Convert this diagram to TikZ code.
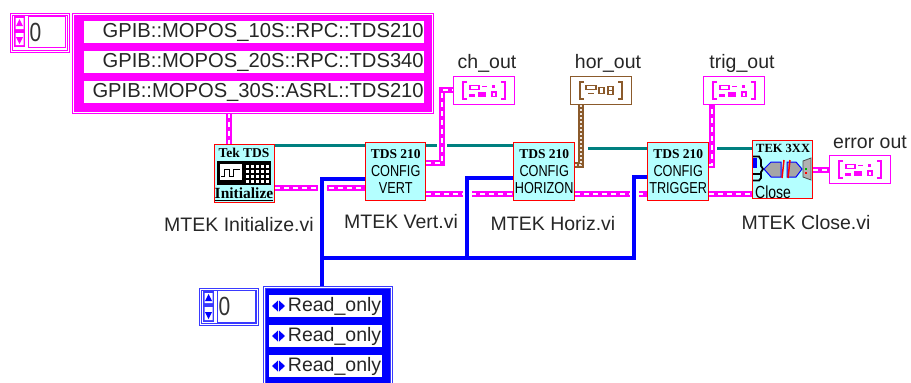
\documentclass[tikz,border=0pt]{standalone}
\usepackage{fontspec}
\usepackage{graphicx}
\setmainfont{Liberation Sans}
\newfontfamily\iconserif{Liberation Serif}
\definecolor{mag}{HTML}{FF00FF}
\definecolor{bluew}{HTML}{0000FF}
\definecolor{tealw}{HTML}{008080}
\definecolor{brownw}{HTML}{8B5A2B}
\definecolor{vicyan}{HTML}{B4FFFF}
\definecolor{frblue}{HTML}{3A3AFF}
\pgfdeclarelayer{bg}
\pgfsetlayers{bg,main}
\newcommand\lbl{\fontsize{19.5}{22}\selectfont}
\newcommand\gpib{\fontsize{20.2}{22}\selectfont}
\newcommand\ser{\iconserif\bfseries\fontsize{13.5}{18}\selectfont}
\newcommand\tall[1]{\scalebox{1}[1.25]{#1}}
\newcommand\clusicon[2]{%
 \begin{scope}[shift={(#1.center)},draw=#2,fill=#2,line width=1.4pt]
  \draw (-17,-8.5) -- (-21,-8.5) -- (-21,8.5) -- (-17,8.5);
  \draw (17,-8.5) -- (21,-8.5) -- (21,8.5) -- (17,8.5);
  \draw[fill=none] (-14,-5) rectangle (-5,-1);
  \fill (-15,3) rectangle (-9,6);
  \fill (-6,1) rectangle (2,6);
  \draw (-2,-4) -- (3,-4);
  \fill (8,-6) rectangle (11,-3);
  \draw[fill=none] (8,1.5) rectangle (12,6);
 \end{scope}}
\tikzset{
 x=1pt,y=-1pt,
 vi/.style={draw=red,line width=1.4pt,fill=vicyan,anchor=north west,minimum width=60pt,minimum height=58pt,inner sep=0pt,align=center,font=\fontsize{12.7}{17.5}\selectfont},
 txt/.style={font=\lbl,inner sep=0pt,text=black!85},
 magframe/.style={draw=mag,fill=mag,line width=1pt,double=white,double distance=1pt,anchor=north west,inner sep=0pt},
 blueframe/.style={draw=frblue,fill=bluew,line width=1pt,double=white,double distance=1pt,anchor=north west,inner sep=0pt},
 strip/.style={fill=white,anchor=north west,minimum height=22pt,inner sep=0pt,font=\lbl,text=black!85},
 field/.style={fill=white,draw=#1,line width=1pt,anchor=north west,inner sep=0pt,font=\fontsize{21}{24}\selectfont,text=black!80},
 term/.style={draw=#1,fill=white,line width=1.3pt,anchor=north west,minimum width=61pt,minimum height=28pt,inner sep=0pt},
 tealwire/.style={draw=tealw,line width=3pt},
 pinkwire/.style={draw=mag,line width=5.5pt,postaction={draw=white,line width=1.6pt,dash pattern=on 5pt off 4pt}},
 pinkover/.style={pinkwire,preaction={draw=white,line width=10pt}},
 brownwire/.style={draw=brownw,line width=6.5pt,preaction={draw=white,line width=13pt},postaction={draw=white!85!brownw,line width=2pt,dash pattern=on 2pt off 2pt}},
 bluewire/.style={draw=bluew,line width=3.5pt,preaction={draw=white,line width=9pt}},
}
\begin{document}
\begin{tikzpicture}
\useasboundingbox (0,0) rectangle (911,383);
% --- magenta array
\node[magframe,minimum width=359pt,minimum height=98pt] (idxa) at (72.5,13.5) {};
\node[strip,font=\gpib,minimum width=340pt,align=right,text width=339pt] (s1) at (84,21) {GPIB::MOPOS\_10S::RPC::TDS210};
\node[strip,font=\gpib,minimum width=340pt,align=right,text width=339pt] (s2) at (84,51) {GPIB::MOPOS\_20S::RPC::TDS340};
\node[strip,font=\gpib,minimum width=340pt,align=right,text width=339pt] (s3) at (84,81) {GPIB::MOPOS\_30S::ASRL::TDS210};
% --- magenta index
\node[draw=mag,fill=white,line width=1pt,double=white,double distance=1pt,anchor=north west,minimum width=57pt,minimum height=37pt,inner sep=0pt] (ia) at (10.5,13.5) {};
\node[field=mag,minimum width=37pt,minimum height=31pt,text width=35pt,align=left] (fa) at (28,16) {\tall{0}};
\fill[mag] (14,16) rectangle (25,47);
\fill[white] (15.5,18) rectangle (23.5,29) (15.5,33) rectangle (23.5,45);
\fill[mag] (19.5,19) -- (23,26) -- (16,26) -- cycle (19.5,44) -- (23,37) -- (16,37) -- cycle;
% --- VIs
\node[vi] (init) at (214,144) {};
\node[vi] (vert) at (365,142) {{\ser TDS 210}\\\tall{CONFIG}\\\tall{VERT}};
\node[vi,minimum width=61pt] (horiz) at (513,142) {{\ser TDS 210}\\\tall{CONFIG}\\\tall{HORIZON}};
\node[vi,minimum width=61pt] (trig) at (647,142) {{\ser TDS 210}\\\tall{CONFIG}\\\tall{TRIGGER}};
\node[vi] (close) at (752,140) {};
% Init icon
\node[inner sep=0pt,font=\ser] (tekt) at (244,153) {Tek TDS};
\node[inner sep=0pt,font=\iconserif\bfseries\fontsize{15.5}{18}\selectfont] (initt) at (244,194) {\underline{Initialize}};
\fill[black] (217,161) rectangle (271,185);
\fill[white] (220,164) rectangle (242,180);
\draw[black,line width=1pt] (221,176) -- (224,176) -- (224,169) -- (229,169) -- (229,176) -- (233,176) -- (233,169) -- (240,169);
\foreach \i in {0,1,2,3,4}\foreach \j in {0,1,2,3}{\fill[white] (246+\i*5,165+\j*5) rectangle ++(3,3);}
% Close icon
\node[inner sep=0pt,font=\iconserif\bfseries\fontsize{12.5}{14}\selectfont,anchor=west] (tekc) at (756,148) {TEK 3XX};
\node[inner sep=0pt,font=\fontsize{14}{16}\selectfont,anchor=west] (closet) at (755,192) {\tall{Close}};
\fill[bluew] (753,158) rectangle (757,168);
\draw[black,line width=1.8pt] (753,156.5) -- (759,156.5) -- (761,160) -- (761,166) -- (763,169) -- (761,172) -- (761,178) -- (759,180.5) -- (753,180.5) (753,174) -- (760,174);
\fill[gray!70,draw=bluew,line width=1pt] (764,169) -- (771,162) -- (781,162) -- (781,177) -- (771,177) -- cycle;
\fill[gray!70,draw=bluew,line width=1pt] (787,162) -- (796,162) -- (802,169) -- (796,177) -- (787,177) -- cycle;
\draw[red,line width=1.5pt] (784,160) -- (782,178) (790,160) -- (788,178);
\fill[gray!60,draw=black!70,line width=.8pt] (803,161) -- (811,158) -- (811,180) -- (803,177) -- cycle;
\fill[green!70!black] (805,168) rectangle (807,170);
\fill[red] (805,172) rectangle (807,174);
% --- terminals
\node[term=mag] (cho) at (453,76) {};
\node[term=brownw] (horo) at (570,76) {};
\node[term=mag] (trgo) at (703,76) {};
\node[term=mag] (erro) at (829,155) {};
\clusicon{cho}{mag}
\clusicon{trgo}{mag}
\clusicon{erro}{mag}
\begin{scope}[shift={(horo.center)},draw=brownw,fill=brownw,line width=1.4pt]
 \draw (-17,-8.5) -- (-21,-8.5) -- (-21,8.5) -- (-17,8.5);
 \draw (17,-8.5) -- (21,-8.5) -- (21,8.5) -- (17,8.5);
 \draw[fill=none] (-15,-5) rectangle (-5,-1);
 \draw (-13,3) -- (-7,3);
 \draw[fill=none] (-2,-3) rectangle (3,3);
 \draw[fill=none] (7,-4) rectangle (12,4);
 \draw (8,0) -- (11,0);
\end{scope}
% --- labels
\node[txt] (l1) at (239,225) {MTEK Initialize.vi};
\node[txt] (l2) at (401,222) {MTEK Vert.vi};
\node[txt] (l3) at (553,224) {MTEK Horiz.vi};
\node[txt] (l4) at (806,223) {MTEK Close.vi};
\node[txt] (l5) at (487,63) {ch\_out};
\node[txt] (l6) at (608,63) {hor\_out};
\node[txt] (l7) at (742,63) {trig\_out};
\node[txt] (l8) at (870,142) {error out};
% --- blue array
\node[blueframe,minimum width=127pt,minimum height=100pt] (arrb) at (263.5,286.5) {};
\node[draw=frblue,fill=white,line width=1pt,double=white,double distance=1pt,anchor=north west,minimum width=57pt,minimum height=35pt,inner sep=0pt] (ib) at (199.5,288.5) {};
\node[field=frblue,minimum width=38pt,minimum height=32pt,text width=36pt,align=left] (fb) at (217,290) {\tall{0}};
\fill[frblue] (203,291) rectangle (214,322);
\fill[white] (204.5,293) rectangle (212.5,303) (204.5,307) rectangle (212.5,320);
\fill[bluew] (208.5,294) -- (212,301) -- (205,301) -- cycle (208.5,319) -- (212,312) -- (205,312) -- cycle;
\foreach \n/\y in {r1/295,r2/325,r3/355}{
 \node[strip,minimum width=113pt,text width=111pt,align=right] (\n) at (269,\y) {Read\_only};
 \fill[bluew] (272,\y+11) -- (278,\y+5.5) -- (278,\y+16.5) -- cycle;
 \fill[bluew] (285,\y+11) -- (279,\y+5.5) -- (279,\y+16.5) -- cycle;
}
% --- wires
\coordinate (busx) at (322,0);
\coordinate (horx) at (467,0);
\coordinate (trgx) at (634,0);
\coordinate (bj) at (322,258);
\begin{pgfonlayer}{bg}
 \draw[tealwire] (init.east |- 0,145) -- (vert.west |- 0,145);
 \draw[tealwire] (vert.east |- 0,145) -- (horiz.west |- 0,145);
 \draw[tealwire] (horiz.east |- 0,148) -- (trig.west |- 0,148);
 \draw[tealwire] (trig.east |- 0,148) -- (close.west |- 0,148);
 \draw[pinkwire] (init.east |- 0,188) -- (vert.west |- 0,188);
 \draw[pinkwire] (vert.east |- 0,194) -- (horiz.west |- 0,194);
 \draw[pinkwire] (horiz.east |- 0,194) -- (trig.west |- 0,194);
 \draw[pinkwire] (trig.east |- 0,194) -- (close.west |- 0,194);
 \draw[pinkwire] (close.east |- 0,170) -- (erro.west |- 0,170);
 \draw[pinkwire] (idxa.south -| 229,0) -- (init.north -| 229,0);
 \draw[pinkover] (vert.east |- 0,163) -| (442,90) -- (cho.west |- 0,90);
 \draw[brownwire] (horiz.east |- 0,165) -| (horo.south -| 581,0);
 \draw[pinkover] (trig.east |- 0,165) -| (trgo.south -| 712,0);
 \draw[bluewire] (vert.west |- 0,179) -| (arrb.north -| busx)
   (bj) -| (horx |- 0,178) -- (horiz.west |- 0,178)
   (bj) -| (trgx |- 0,177) -- (trig.west |- 0,177);
\end{pgfonlayer}
\end{tikzpicture}
\end{document}
